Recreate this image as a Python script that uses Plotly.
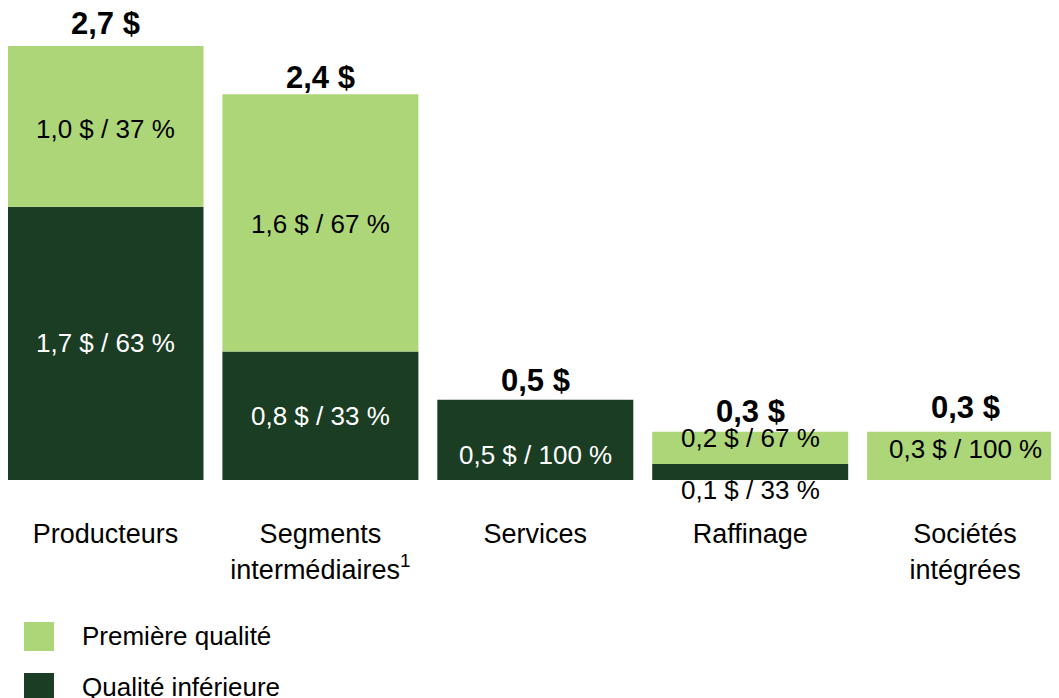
# -*- coding: utf-8 -*-

import plotly.graph_objects as go

categories = ['Producteurs', 'Segments<br>intermédiaires<sup>1</sup>', 'Services',
              'Raffinage', 'Sociétés<br>intégrées']
inferieure = [1.7, 0.8, 0.5, 0.1, 0.0]
premiere = [1.0, 1.6, 0.0, 0.2, 0.3]
pct_inferieure = [63, 33, 100, 33, 0]
pct_premiere = [37, 67, 0, 67, 100]
totals = [2.7, 2.4, 0.5, 0.3, 0.3]

LIGHT = '#ADD678'
DARK = '#1B3D24'
FONT = 'Liberation Sans, Arial, sans-serif'

W, H = 1051, 690      # page adds an 8px body margin
BASE = 472            # pixel row of the bar baseline


def fr(v):
    return f'{v:.1f}'.replace('.', ',')


x_idx = list(range(len(categories)))

fig = go.Figure()

fig.add_trace(
    go.Bar(
        x=x_idx,
        y=inferieure,
        marker_color=DARK,
        marker_line_width=0,
        width=0.912,
        name='Qualité inférieure',
        showlegend=False,
        hoverinfo='skip',
    )
)

fig.add_trace(
    go.Bar(
        x=x_idx,
        y=premiere,
        base=inferieure,
        marker_color=LIGHT,
        marker_line_width=0,
        width=0.912,
        name='Première qualité',
        showlegend=False,
        hoverinfo='skip',
    )
)

# fine vertical nudges for labels (px, positive = up)
shift_dark = [0, 0, -15, -18, 0]
shift_light = [-3, -1, 0, 10, 7]
shift_total = [23, 17, 19, 20, 24]

annotations = []
for i in x_idx:
    if inferieure[i] > 0:
        outside = i == 3
        annotations.append(dict(
            x=i, y=inferieure[i] / 2, xref='x', yref='y',
            text=f'{fr(inferieure[i])} $ / {pct_inferieure[i]} %',
            showarrow=False, yshift=shift_dark[i],
            font=dict(size=26, color='black' if outside else 'white', family=FONT),
        ))
    if premiere[i] > 0:
        annotations.append(dict(
            x=i, y=inferieure[i] + premiere[i] / 2, xref='x', yref='y',
            text=f'{fr(premiere[i])} $ / {pct_premiere[i]} %',
            showarrow=False, yshift=shift_light[i],
            font=dict(size=26, color='black', family=FONT),
        ))
    annotations.append(dict(
        x=i, y=totals[i], xref='x', yref='y',
        text=f'<b>{fr(totals[i])} $</b>',
        showarrow=False, yanchor='middle', yshift=shift_total[i],
        font=dict(size=31, color='black', family=FONT),
    ))


# legend drawn by hand to get the large swatches
def py(p):
    return (BASE - p) / BASE


shapes = []
legend_items = [('Première qualité', LIGHT, 614), ('Qualité inférieure', DARK, 665)]
for label, color, top in legend_items:
    shapes.append(dict(
        type='rect', xref='paper', yref='paper',
        x0=16 / W, x1=46 / W, y0=py(top), y1=py(top + 29),
        fillcolor=color, line_width=0,
    ))
    annotations.append(dict(
        x=72 / W, y=py(top + 14), xref='paper', yref='paper',
        xanchor='left', yanchor='middle', text=label, showarrow=False,
        font=dict(size=26, color='black', family=FONT),
    ))

fig.update_layout(
    width=W, height=H,
    margin={'t': 0, 'r': 0, 'b': H - BASE, 'l': 0},
    barmode='overlay',
    plot_bgcolor='white', paper_bgcolor='white',
    font=dict(family=FONT, color='black'),
    showlegend=False,
    annotations=annotations,
    shapes=shapes,
)

fig.update_xaxes(
    range=[-0.4537, 4.437],
    tickvals=x_idx, ticktext=categories,
    ticks='outside', ticklen=30, tickcolor='rgba(0,0,0,0)',
    tickfont=dict(size=27, color='black', family=FONT),
    showgrid=False, zeroline=False, showline=False,
)

fig.update_yaxes(
    range=[0, BASE / 160.74],
    visible=False, showgrid=False, zeroline=False,
)

fig.write_html('out.html')
